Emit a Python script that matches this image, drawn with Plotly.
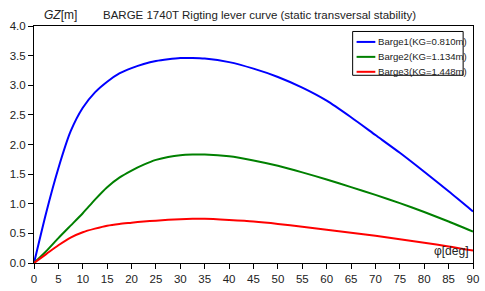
import plotly.graph_objects as go

angles = [0, 2.5, 5, 7.5, 10, 12.5, 15, 17.5, 20, 22.5, 25, 27.5, 30, 32.5, 35,
          40, 45, 50, 55, 60, 65, 70, 75, 80, 85, 90]
barge1 = [0, 0.85, 1.60, 2.22, 2.62, 2.88, 3.06, 3.20, 3.29, 3.36, 3.41, 3.44, 3.46, 3.46, 3.45,
          3.39, 3.28, 3.14, 2.96, 2.74, 2.46, 2.16, 1.86, 1.54, 1.21, 0.87]
barge2 = [0, 0.20, 0.42, 0.63, 0.84, 1.07, 1.28, 1.44, 1.56, 1.66, 1.74, 1.79, 1.82, 1.83, 1.83,
          1.80, 1.73, 1.64, 1.53, 1.41, 1.28, 1.15, 1.01, 0.86, 0.70, 0.53]
barge3 = [0, 0.15, 0.30, 0.43, 0.52, 0.58, 0.63, 0.66, 0.68, 0.70, 0.715, 0.73, 0.74, 0.745, 0.745,
          0.725, 0.70, 0.66, 0.61, 0.56, 0.51, 0.46, 0.40, 0.34, 0.28, 0.21]
names = ["Barge1(KG=0.810m)", "Barge2(KG=1.134m)", "Barge3(KG=1.448m)"]
colors = ["#0000ff", "#008000", "#ff0000"]
x_ticks = list(range(0, 91, 5))
y_ticks = [0.0, 0.5, 1.0, 1.5, 2.0, 2.5, 3.0, 3.5, 4.0]

W, H = 485, 291
ML, MR, MT, MB = 34, 6, 26, 27
PW, PH = W - ML - MR, H - MT - MB

def px_x(p):
    return (p - ML) / PW

def px_y(p):
    return 1 - (p - MT) / PH

fig = go.Figure()
for ys, nm, c in zip([barge1, barge2, barge3], names, colors):
    fig.add_trace(go.Scatter(x=angles, y=ys, mode="lines", name=nm, showlegend=False,
                             line=dict(color=c, width=2, shape="spline", smoothing=0.7)))

font = "Liberation Sans, Arial, sans-serif"
txt = "#222222"

shapes = [dict(type="rect", xref="paper", yref="paper",
               x0=px_x(357), x1=px_x(469), y0=px_y(31.5), y1=px_y(75.5),
               line=dict(color="black", width=1), fillcolor="white", layer="above")]
annotations = []
for i, (nm, c) in enumerate(zip(names, colors)):
    yy = 42 + 15 * i
    shapes.append(dict(type="line", xref="paper", yref="paper",
                       x0=px_x(361), x1=px_x(380), y0=px_y(yy), y1=px_y(yy),
                       line=dict(color=c, width=2), layer="above"))
    annotations.append(dict(text=nm, xref="paper", yref="paper", x=px_x(380.5), y=px_y(yy),
                            xanchor="left", yanchor="middle", showarrow=False,
                            font=dict(size=9.6, color=txt)))

annotations += [
    dict(text="BARGE 1740T Rigting lever curve (static transversal stability)",
         xref="paper", yref="paper", x=px_x(263), y=px_y(15), xanchor="center", yanchor="middle",
         showarrow=False, font=dict(size=11.5, color=txt)),
    dict(text="<i>GZ</i>[m]", xref="paper", yref="paper", x=px_x(42), y=px_y(15),
         xanchor="left", yanchor="middle", showarrow=False, font=dict(size=12, color=txt)),
    dict(text="φ[deg]", xref="paper", yref="paper", x=px_x(476), y=px_y(252),
         xanchor="right", yanchor="middle", showarrow=False, font=dict(size=12, color=txt)),
]

fig.update_layout(
    width=W, height=H,
    margin=dict(l=ML, r=MR, t=MT, b=MB),
    paper_bgcolor="white", plot_bgcolor="white",
    font=dict(family=font, size=11, color=txt),
    showlegend=False,
    xaxis=dict(range=[0, 90], tickvals=x_ticks, ticktext=[str(v) for v in x_ticks],
               showgrid=False, zeroline=False, showline=True, linecolor="black",
               linewidth=1, mirror=True, ticks="outside", ticklen=5, tickcolor="black",
               tickfont=dict(size=11.5), ticklabeloverflow="allow"),
    yaxis=dict(range=[0, 4.0], tickvals=y_ticks, ticktext=[f"{v:.1f}" for v in y_ticks],
               showgrid=False, zeroline=False, showline=True, linecolor="black",
               linewidth=1, mirror=True, ticks="outside", ticklen=5, tickcolor="black",
               tickfont=dict(size=11.5), ticklabeloverflow="allow"),
    shapes=shapes,
    annotations=annotations,
)
fig.write_html("out.html", config={"displayModeBar": False},
               post_script="document.body.style.margin='0';document.body.style.overflow='hidden';")
